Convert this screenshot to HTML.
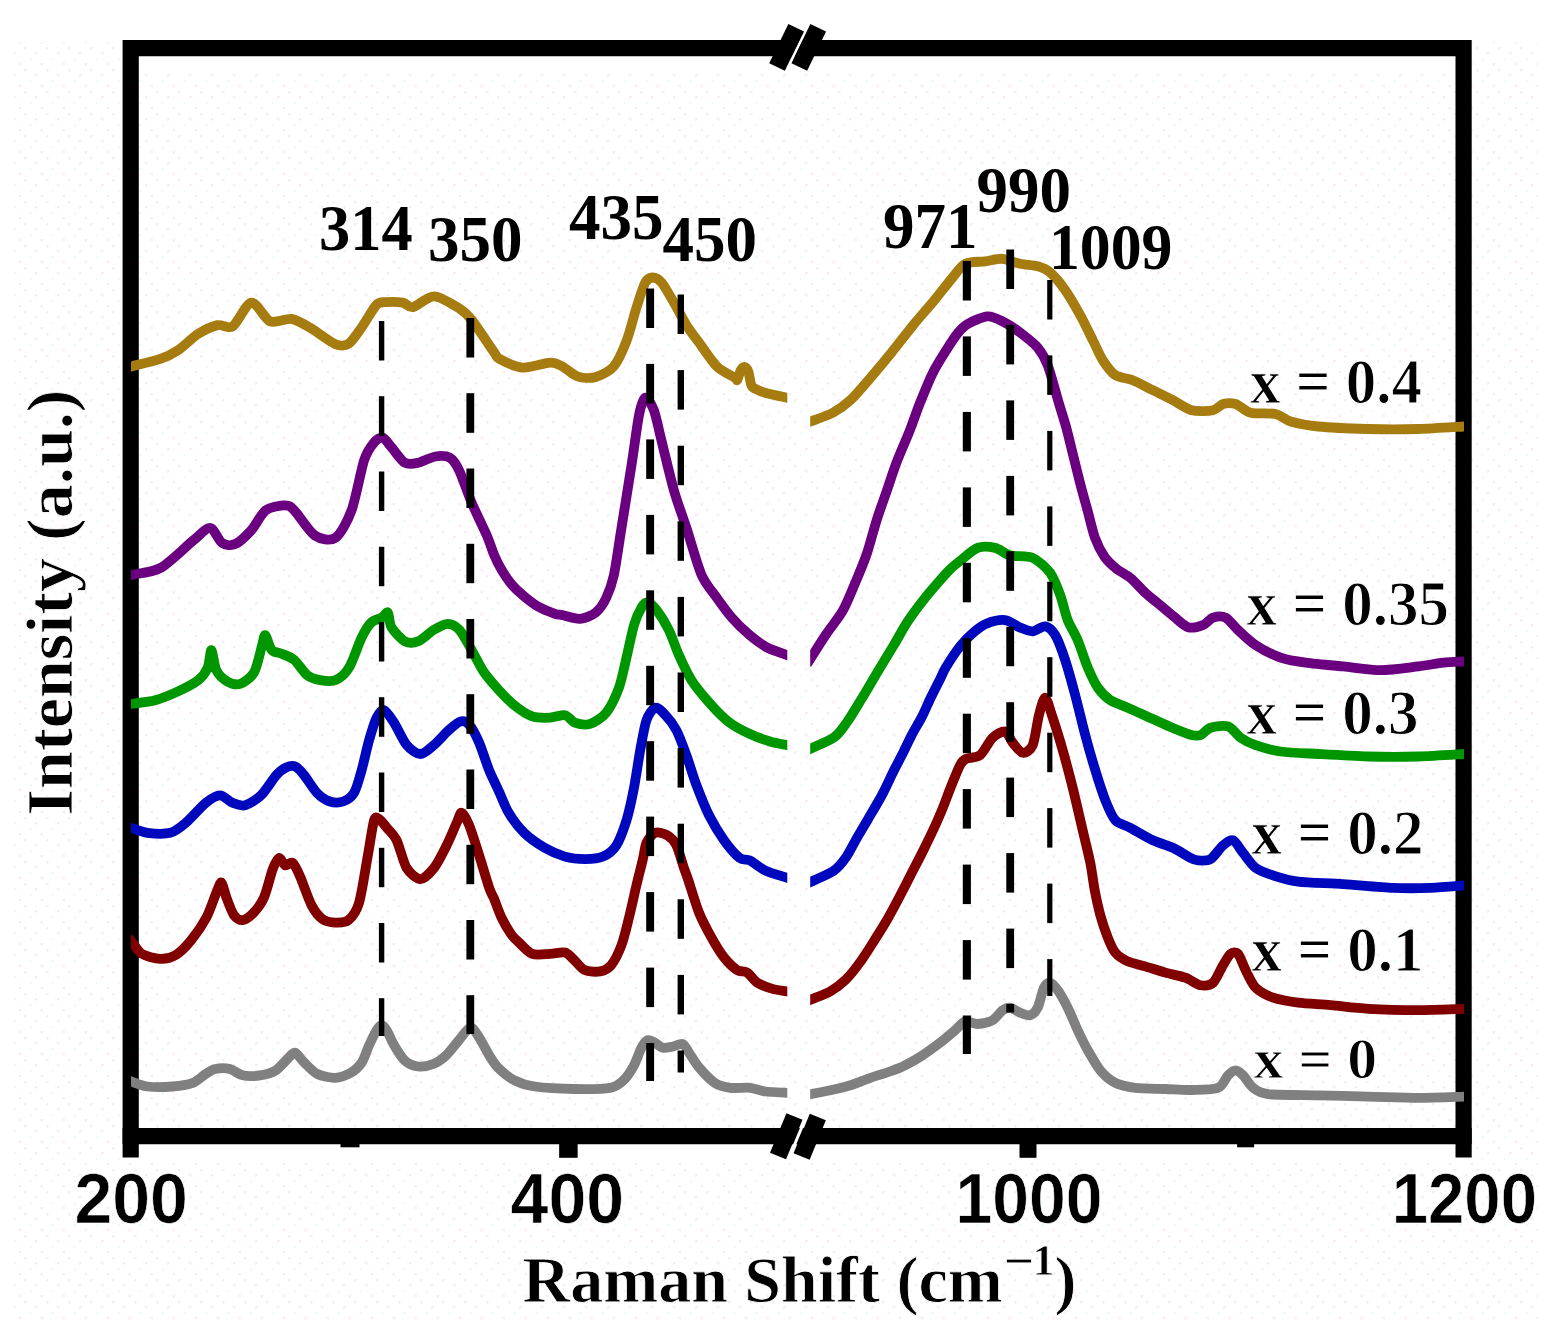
<!DOCTYPE html>
<html lang="en"><head><meta charset="utf-8"><title>Raman spectra</title>
<style>html,body{margin:0;padding:0;background:#fff}body{width:1558px;height:1340px;overflow:hidden}svg{display:block}.s{font-family:"Liberation Serif",serif;font-weight:bold;fill:#000}.a{font-family:"Liberation Sans",sans-serif;font-weight:bold;fill:#000}.c{fill:none;stroke-linejoin:round;stroke-linecap:butt}</style></head><body>
<svg width="1558" height="1340" viewBox="0 0 1558 1340">
<defs><pattern id="dz" width="22" height="22" patternUnits="userSpaceOnUse"><rect x="2" y="3" width="2.5" height="2.5" fill="#f6edf4"/><rect x="13" y="8" width="2.5" height="2.5" fill="#f6edf4"/><rect x="7.5" y="14" width="2.5" height="2.5" fill="#ebfcfc"/><rect x="18.5" y="19" width="2.5" height="2.5" fill="#f6edf4"/></pattern></defs>
<rect width="1558" height="1340" fill="#fff"/>
<rect x="14" y="42" width="1524" height="1280" fill="url(#dz)"/>
<rect x="122" y="40" width="1350" height="32" fill="#fff"/>
<rect x="122" y="1128" width="1350" height="35" fill="#fff"/>
<path d="M130.7,1157.5 V48.2 H1463.6 V1157.5" fill="none" stroke="#000" stroke-width="16.2" stroke-linejoin="miter" stroke-linecap="butt"/>
<path d="M122.6,1136.2 H1471.6999999999998" fill="none" stroke="#000" stroke-width="16.2"/>
<rect x="340.5" y="1136.2" width="19" height="11.1" fill="#000"/>
<rect x="559.15" y="1136.2" width="18.5" height="21.6" fill="#000"/>
<rect x="1019.5" y="1136.2" width="17" height="21.6" fill="#000"/>
<rect x="1237.1" y="1136.2" width="17" height="11.1" fill="#000"/>
<path d="M807.2,27.7 L788.1,67.0" stroke="#fff" stroke-width="3" fill="none"/>
<path d="M796.2,27.7 L777,67" stroke="#000" stroke-width="17.4" fill="none"/>
<path d="M818.2,27.7 L799.3,67" stroke="#000" stroke-width="17.4" fill="none"/>
<path d="M806.1,1116.8 L789.8,1156.2" stroke="#fff" stroke-width="3" fill="none"/>
<path d="M794.5,1116.5 L778,1156" stroke="#000" stroke-width="17.4" fill="none"/>
<path d="M817.8,1117 L801.6,1156.5" stroke="#000" stroke-width="17.4" fill="none"/>
<clipPath id="cl"><rect x="131" y="0" width="656.3" height="1340"/></clipPath>
<clipPath id="cr"><rect x="810.2" y="0" width="653.8" height="1340"/></clipPath>
<path class="c" clip-path="url(#cl)" stroke="#808080" stroke-width="9.8" d="M127.3,1080.3 C127.9,1080.4 128.5,1080.6 131.3,1081.5 C134.1,1082.4 141.6,1085.8 147.4,1086.5 C153.2,1087.2 166.3,1087.0 172.7,1086.5 C179.1,1086.0 188.3,1084.5 192.9,1082.8 C197.5,1081.0 202.5,1075.9 205.6,1074.0 C208.7,1072.1 211.9,1069.7 215.3,1069.0 C218.7,1068.3 226.2,1068.1 230.0,1069.0 C233.8,1069.9 238.3,1074.4 242.5,1075.3 C246.7,1076.2 255.6,1076.0 260.3,1075.3 C265.0,1074.6 271.9,1072.8 275.8,1070.3 C279.7,1067.8 285.8,1060.3 288.5,1057.8 C291.2,1055.3 293.0,1052.0 295.2,1052.7 C297.4,1053.4 301.4,1059.8 304.5,1062.8 C307.6,1065.8 313.1,1071.9 317.4,1074.0 C321.7,1076.1 330.6,1078.0 335.3,1077.8 C340.0,1077.6 347.1,1074.9 350.8,1072.8 C354.5,1070.7 359.0,1066.7 361.6,1062.8 C364.2,1058.9 367.0,1049.8 369.1,1045.2 C371.2,1040.6 374.9,1033.0 376.6,1030.2 C378.4,1027.4 380.2,1025.2 381.6,1025.2 C383.0,1025.2 384.9,1027.4 386.6,1030.2 C388.4,1033.0 391.6,1041.0 394.1,1045.2 C396.6,1049.4 401.3,1057.3 404.6,1060.3 C407.9,1063.3 413.9,1066.0 417.9,1066.5 C421.9,1067.0 429.3,1065.6 433.3,1064.0 C437.3,1062.4 442.6,1058.6 446.2,1055.3 C449.8,1052.0 455.5,1044.1 458.9,1040.2 C462.3,1036.3 467.6,1028.0 470.5,1027.7 C473.4,1027.4 476.7,1033.8 479.3,1037.7 C481.9,1041.6 486.6,1051.1 489.2,1055.3 C491.8,1059.5 494.6,1064.3 498.1,1067.8 C501.6,1071.3 509.3,1077.7 514.5,1080.3 C519.7,1082.9 526.4,1085.3 534.9,1086.5 C543.4,1087.7 564.5,1088.8 575.1,1089.0 C585.7,1089.2 603.5,1089.0 610.3,1087.8 C617.1,1086.6 620.3,1083.5 623.6,1080.3 C626.9,1077.1 631.5,1069.9 634.0,1065.3 C636.5,1060.7 639.6,1051.2 641.5,1047.7 C643.4,1044.2 645.8,1040.9 647.7,1040.2 C649.6,1039.5 652.7,1041.7 654.8,1042.7 C656.9,1043.8 660.2,1047.2 662.7,1047.7 C665.2,1048.2 670.1,1047.0 672.9,1046.5 C675.7,1046.0 680.4,1043.1 682.7,1044.0 C685.0,1044.9 686.7,1049.4 689.0,1052.7 C691.3,1056.0 695.7,1063.6 699.3,1067.8 C702.9,1072.0 710.4,1080.0 714.7,1082.8 C719.0,1085.6 725.2,1087.1 730.2,1087.8 C735.2,1088.5 745.3,1087.3 750.2,1087.8 C755.1,1088.3 760.0,1090.8 765.2,1091.5 C770.4,1092.2 783.7,1092.6 787.4,1092.8 C791.1,1093.0 790.8,1093.0 791.4,1093.0"/>
<path class="c" clip-path="url(#cr)" stroke="#808080" stroke-width="9.8" d="M806.4,1094.9 C807.0,1094.8 807.0,1094.7 810.4,1094.1 C813.8,1093.5 824.8,1091.5 830.4,1090.3 C836.0,1089.1 844.8,1087.0 850.4,1085.3 C856.0,1083.5 865.0,1079.7 870.5,1077.8 C876.0,1075.9 885.2,1073.2 890.0,1071.5 C894.8,1069.8 900.5,1067.6 905.0,1065.3 C909.5,1063.0 917.6,1058.5 922.5,1055.3 C927.4,1052.1 935.5,1046.2 940.1,1042.7 C944.7,1039.2 951.6,1033.2 955.1,1030.2 C958.6,1027.2 962.0,1022.4 965.1,1021.5 C968.2,1020.6 973.8,1024.2 977.6,1024.0 C981.5,1023.8 989.1,1022.1 992.6,1020.2 C996.1,1018.3 1000.1,1012.0 1002.6,1010.2 C1005.1,1008.5 1007.7,1007.4 1010.2,1007.7 C1012.7,1008.1 1017.4,1011.7 1020.2,1012.7 C1023.0,1013.8 1027.8,1015.9 1030.2,1015.2 C1032.7,1014.5 1035.8,1011.6 1037.7,1007.7 C1039.6,1003.9 1042.2,991.2 1043.9,987.7 C1045.7,984.2 1048.3,982.4 1050.2,982.7 C1052.1,983.1 1055.2,986.7 1057.7,990.2 C1060.2,993.7 1064.9,1002.1 1067.7,1007.7 C1070.5,1013.3 1074.9,1024.2 1077.7,1030.2 C1080.5,1036.2 1084.6,1044.6 1087.8,1050.2 C1091.0,1055.8 1096.5,1065.7 1100.3,1070.3 C1104.1,1074.9 1110.4,1080.3 1115.3,1082.8 C1120.2,1085.2 1128.3,1086.9 1135.3,1087.8 C1142.3,1088.7 1157.5,1088.7 1165.4,1089.0 C1173.3,1089.3 1184.3,1090.2 1191.7,1090.0 C1199.1,1089.8 1213.0,1089.9 1218.1,1087.8 C1223.2,1085.7 1225.6,1077.8 1228.1,1075.3 C1230.5,1072.8 1233.5,1070.3 1235.6,1070.3 C1237.7,1070.3 1240.6,1072.8 1243.1,1075.3 C1245.5,1077.8 1249.6,1085.2 1253.1,1087.8 C1256.6,1090.4 1259.0,1093.0 1268.1,1094.1 C1277.2,1095.1 1304.2,1095.0 1318.2,1095.3 C1332.2,1095.6 1354.3,1096.2 1368.3,1096.6 C1382.3,1096.9 1404.9,1097.8 1418.3,1097.8 C1431.7,1097.8 1457.1,1096.8 1464.1,1096.6 C1471.1,1096.4 1467.5,1096.5 1468.1,1096.5"/>
<path class="c" clip-path="url(#cl)" stroke="#800000" stroke-width="9.8" d="M128.5,937.8 C129.1,938.5 130.6,940.4 132.5,942.6 C134.4,944.8 138.1,951.6 142.0,953.9 C145.9,956.2 155.4,958.7 160.1,958.9 C164.8,959.1 171.2,957.7 175.6,955.1 C180.0,952.5 186.9,945.4 191.2,940.1 C195.5,934.9 202.9,924.3 206.4,917.6 C209.9,910.9 214.3,897.4 216.4,892.5 C218.5,887.6 220.0,881.8 221.4,882.5 C222.8,883.2 224.7,892.9 226.4,897.5 C228.2,902.1 231.6,911.9 233.9,915.1 C236.2,918.3 239.9,920.5 242.7,920.1 C245.5,919.8 250.7,915.8 253.7,912.6 C256.7,909.4 261.3,903.6 264.0,897.5 C266.7,891.4 270.7,874.5 272.8,869.0 C274.9,863.5 277.3,858.4 279.0,857.9 C280.7,857.4 283.3,864.7 285.2,865.4 C287.1,866.1 290.6,861.3 292.7,862.9 C294.8,864.5 297.5,870.6 300.1,876.5 C302.7,882.4 308.4,899.2 311.5,905.1 C314.6,911.0 318.8,916.3 322.1,918.8 C325.4,921.2 331.6,922.4 335.3,922.6 C339.0,922.8 345.3,922.9 348.6,920.1 C351.9,917.3 356.4,911.7 359.1,902.6 C361.8,893.5 365.8,866.6 367.9,855.1 C370.0,843.6 372.5,825.3 374.1,820.3 C375.7,815.3 377.3,818.1 379.1,819.1 C380.9,820.1 384.4,824.8 386.9,827.8 C389.3,830.8 393.8,834.7 396.6,840.3 C399.4,845.9 403.3,862.5 406.6,867.9 C409.9,873.3 416.5,879.1 420.4,879.1 C424.2,879.1 430.4,872.6 434.1,867.9 C437.8,863.2 443.5,851.6 446.7,845.3 C449.9,839.0 454.6,827.3 456.7,822.8 C458.8,818.2 459.9,812.4 461.7,812.8 C463.4,813.1 466.8,819.3 469.2,825.3 C471.6,831.3 476.4,846.6 479.2,855.4 C482.0,864.2 487.1,881.8 489.2,887.9 C491.3,894.0 492.4,894.8 494.2,899.0 C495.9,903.2 499.3,913.1 501.7,918.0 C504.1,922.9 508.6,930.6 511.0,934.0 C513.4,937.4 516.1,939.8 519.1,942.6 C522.1,945.4 527.9,952.3 532.2,953.9 C536.5,955.5 545.5,954.1 550.1,953.9 C554.7,953.7 561.7,951.7 565.1,952.6 C568.5,953.5 571.6,957.6 574.3,960.1 C577.0,962.6 581.1,968.5 584.7,970.1 C588.3,971.7 596.4,972.1 600.1,971.4 C603.8,970.7 608.2,968.8 611.2,965.1 C614.2,961.4 619.0,951.8 621.5,945.1 C624.0,938.5 626.9,926.0 629.0,917.6 C631.1,909.2 634.6,893.1 636.5,885.0 C638.4,876.9 641.3,865.9 642.7,860.0 C644.1,854.1 644.8,846.6 646.5,842.8 C648.2,839.0 652.3,833.8 655.2,832.8 C658.1,831.8 664.2,833.5 667.2,835.3 C670.2,837.0 674.1,840.7 676.4,845.3 C678.7,849.9 682.2,863.0 683.9,867.9 C685.6,872.8 686.2,873.8 688.3,880.1 C690.4,886.4 695.8,904.6 699.0,912.6 C702.2,920.6 708.0,931.3 711.5,937.6 C715.0,943.9 720.6,953.1 724.2,957.6 C727.8,962.1 734.0,968.0 737.2,970.1 C740.4,972.2 744.5,970.8 747.3,972.6 C750.1,974.4 753.7,980.4 757.2,982.7 C760.7,985.0 768.3,987.7 772.5,988.9 C776.7,990.1 784.8,991.0 787.4,991.4 C790.0,991.8 790.8,992.0 791.4,992.1"/>
<path class="c" clip-path="url(#cr)" stroke="#800000" stroke-width="9.8" d="M807.0,1001.2 C807.6,1000.9 807.8,1000.9 811.0,999.5 C814.2,998.1 825.2,994.3 830.1,991.5 C835.0,988.7 841.6,983.7 845.9,979.5 C850.2,975.3 856.7,966.9 860.6,961.5 C864.5,956.1 870.3,946.9 874.0,941.0 C877.7,935.1 883.5,925.9 887.1,919.7 C890.7,913.5 896.0,903.5 899.4,897.0 C902.8,890.5 908.3,879.6 911.7,873.0 C915.1,866.4 920.4,856.3 923.5,850.0 C926.6,843.7 931.3,834.0 934.1,828.0 C936.9,822.0 940.9,812.6 943.2,807.0 C945.5,801.4 948.1,793.7 950.5,787.8 C952.9,781.9 957.9,769.2 960.0,765.2 C962.1,761.2 963.0,760.4 965.8,759.0 C968.6,757.6 976.3,758.2 980.1,755.2 C983.9,752.2 989.1,741.0 992.6,737.7 C996.1,734.4 1002.3,730.8 1005.1,731.5 C1007.9,732.2 1010.2,739.7 1012.7,742.7 C1015.2,745.7 1019.9,752.4 1022.7,752.7 C1025.5,753.1 1030.4,750.5 1032.7,745.2 C1035.0,740.0 1037.2,721.9 1038.9,715.2 C1040.7,708.6 1043.3,697.4 1045.2,697.7 C1047.1,698.1 1050.2,710.4 1052.7,717.7 C1055.2,725.1 1059.9,740.4 1062.7,750.2 C1065.5,760.0 1069.9,776.6 1072.7,787.8 C1075.5,799.0 1080.2,819.8 1082.7,830.3 C1085.2,840.8 1088.6,854.5 1090.3,862.9 C1092.0,871.3 1093.3,882.9 1094.7,890.2 C1096.1,897.5 1098.5,908.5 1100.3,915.1 C1102.1,921.7 1105.7,932.4 1107.8,937.6 C1109.9,942.9 1112.5,949.3 1115.3,952.6 C1118.1,955.9 1123.6,959.5 1127.8,961.4 C1132.0,963.3 1140.0,964.8 1145.3,966.4 C1150.6,968.0 1159.8,971.0 1165.4,972.6 C1171.0,974.2 1180.5,975.9 1185.4,977.7 C1190.3,979.5 1196.6,984.5 1200.5,985.2 C1204.4,985.9 1209.9,985.5 1213.1,982.7 C1216.3,979.9 1220.6,969.1 1223.1,965.1 C1225.5,961.1 1228.5,955.5 1230.6,953.9 C1232.7,952.3 1236.0,951.6 1238.1,953.9 C1240.2,956.2 1243.1,965.4 1245.6,970.1 C1248.0,974.8 1251.8,983.8 1255.6,987.7 C1259.4,991.6 1267.1,995.6 1273.1,997.7 C1279.1,999.8 1290.1,1001.7 1298.2,1002.7 C1306.3,1003.8 1320.9,1004.3 1330.7,1005.2 C1340.5,1006.1 1356.0,1008.2 1368.3,1008.9 C1380.6,1009.6 1404.9,1010.2 1418.3,1010.2 C1431.7,1010.2 1457.1,1009.1 1464.1,1008.9 C1471.1,1008.7 1467.5,1008.8 1468.1,1008.8"/>
<path class="c" clip-path="url(#cl)" stroke="#0008be" stroke-width="9.8" d="M127.3,826.6 C127.9,826.7 128.5,826.9 131.3,827.8 C134.1,828.7 141.9,832.1 147.4,832.8 C152.9,833.5 164.9,834.2 170.3,832.8 C175.7,831.4 180.8,827.0 185.8,822.8 C190.8,818.6 201.0,806.6 205.8,802.8 C210.6,798.9 216.4,795.3 220.1,795.3 C223.8,795.3 228.9,801.4 232.4,802.8 C235.9,804.2 241.2,806.3 245.2,805.3 C249.2,804.2 256.8,799.5 261.1,795.3 C265.4,791.1 272.8,779.2 276.2,775.3 C279.6,771.4 282.9,768.9 285.6,767.7 C288.3,766.5 292.6,765.4 295.2,766.5 C297.8,767.6 301.3,771.6 304.3,775.3 C307.3,779.0 313.3,789.1 316.9,792.8 C320.5,796.5 326.3,800.3 330.0,801.5 C333.7,802.7 339.7,802.7 343.1,801.5 C346.5,800.3 351.5,797.2 354.1,792.8 C356.7,788.4 359.5,777.7 361.6,770.3 C363.7,762.9 367.0,747.6 369.1,740.2 C371.2,732.8 374.5,721.9 376.6,717.7 C378.7,713.5 381.7,709.5 384.1,710.2 C386.6,710.9 390.9,717.8 394.1,722.7 C397.3,727.6 403.1,740.8 406.8,745.2 C410.5,749.6 416.6,754.0 420.4,754.0 C424.2,754.0 429.7,748.5 433.7,745.2 C437.7,741.9 445.0,733.5 448.7,730.2 C452.4,726.9 457.5,722.1 460.4,721.4 C463.3,720.7 467.0,722.2 469.6,725.2 C472.2,728.2 476.5,736.4 479.2,742.7 C481.9,749.0 486.4,763.5 489.2,770.3 C492.0,777.1 496.3,785.5 499.0,791.5 C501.7,797.5 505.2,807.0 508.7,812.8 C512.2,818.6 519.1,827.9 524.1,832.8 C529.1,837.7 538.9,844.5 544.6,847.8 C550.3,851.1 559.2,855.0 564.9,856.6 C570.6,858.2 579.8,859.1 585.1,859.1 C590.4,859.1 598.6,858.5 603.0,856.6 C607.4,854.7 613.1,850.4 616.4,845.3 C619.7,840.2 624.0,828.3 626.5,820.3 C629.0,812.2 632.1,797.6 634.0,787.8 C635.9,778.0 638.5,759.7 640.2,750.2 C642.0,740.7 644.4,726.2 646.5,720.2 C648.6,714.2 652.7,708.6 655.2,707.7 C657.7,706.8 661.3,710.8 664.3,713.9 C667.3,717.0 673.3,724.4 676.4,730.2 C679.5,736.0 683.6,747.5 686.4,755.2 C689.2,762.9 693.3,776.9 696.5,785.3 C699.7,793.7 705.1,807.6 709.0,815.3 C712.9,823.0 719.8,834.3 724.1,840.3 C728.4,846.3 736.0,855.1 739.6,857.9 C743.2,860.7 746.4,858.6 749.9,860.4 C753.4,862.1 759.6,867.9 764.9,870.4 C770.1,872.9 783.7,876.7 787.4,877.9 C791.1,879.1 790.8,879.0 791.4,879.2"/>
<path class="c" clip-path="url(#cr)" stroke="#0008be" stroke-width="9.8" d="M807.0,883.7 C807.6,883.4 807.3,883.6 811.0,881.8 C814.7,880.0 828.4,874.6 833.4,871.1 C838.4,867.6 843.1,861.4 846.4,856.7 C849.7,852.0 854.0,842.9 857.1,837.6 C860.2,832.3 864.9,824.5 868.4,818.5 C871.9,812.5 878.8,801.0 882.2,794.6 C885.6,788.2 889.8,778.8 892.6,773.1 C895.4,767.4 899.7,759.3 902.4,754.0 C905.1,748.7 909.0,740.1 911.7,734.9 C914.4,729.7 919.1,722.3 921.8,717.0 C924.5,711.7 928.6,702.1 931.1,697.0 C933.6,691.9 937.3,684.6 939.4,680.5 C941.5,676.4 942.9,672.3 945.8,667.5 C948.7,662.7 956.3,651.0 960.3,646.0 C964.3,641.0 970.5,634.9 974.3,631.7 C978.1,628.5 982.9,624.9 987.2,623.3 C991.5,621.7 1000.5,619.5 1005.1,620.1 C1009.7,620.7 1016.3,626.0 1020.2,627.6 C1024.1,629.2 1029.2,631.5 1032.7,631.3 C1036.2,631.1 1042.0,625.8 1045.2,626.3 C1048.4,626.8 1052.4,630.4 1055.2,635.1 C1058.0,639.8 1062.4,651.7 1065.2,660.1 C1068.0,668.5 1072.4,684.7 1075.2,695.2 C1078.0,705.7 1082.5,724.7 1085.3,735.2 C1088.1,745.7 1092.5,761.2 1095.3,770.3 C1098.1,779.4 1102.5,793.3 1105.3,800.3 C1108.1,807.3 1111.8,816.4 1115.3,820.3 C1118.8,824.1 1125.0,825.0 1130.3,827.8 C1135.5,830.6 1146.8,837.5 1152.8,840.3 C1158.8,843.1 1167.6,845.3 1172.9,847.8 C1178.2,850.3 1186.9,856.1 1190.4,857.9 C1193.9,859.7 1195.2,860.2 1198.0,860.4 C1200.8,860.6 1207.1,861.2 1210.6,859.1 C1214.1,857.0 1219.9,847.9 1223.1,845.3 C1226.2,842.7 1230.3,839.2 1233.1,840.3 C1235.9,841.4 1239.9,849.0 1243.1,852.9 C1246.2,856.8 1251.4,864.8 1255.6,867.9 C1259.8,871.0 1267.1,873.5 1273.1,875.4 C1279.1,877.3 1288.4,880.4 1298.2,881.6 C1308.0,882.8 1329.9,883.2 1343.2,884.1 C1356.5,885.0 1381.0,887.4 1393.3,887.9 C1405.6,888.4 1420.9,888.2 1430.8,887.9 C1440.7,887.5 1458.9,885.8 1464.1,885.4 C1469.3,885.0 1467.5,885.1 1468.1,885.1"/>
<path class="c" clip-path="url(#cl)" stroke="#009600" stroke-width="9.8" d="M127.3,704.5 C127.9,704.4 127.4,704.5 131.3,703.9 C135.2,703.3 148.8,702.0 155.3,700.2 C161.8,698.5 172.0,694.2 178.0,691.4 C184.0,688.6 194.1,683.4 198.3,680.1 C202.5,676.8 205.9,671.8 207.7,667.6 C209.5,663.4 210.2,649.8 211.4,650.1 C212.6,650.5 214.1,665.7 216.3,670.1 C218.5,674.5 223.9,679.5 227.2,681.4 C230.5,683.3 236.4,685.1 240.2,683.9 C244.0,682.7 251.0,677.7 254.0,672.6 C257.0,667.5 259.9,652.9 261.5,647.6 C263.1,642.4 263.8,634.8 265.2,635.1 C266.6,635.5 269.4,647.5 271.8,650.1 C274.2,652.7 279.1,652.5 282.3,653.9 C285.5,655.3 291.0,657.1 294.5,660.1 C298.0,663.1 303.5,672.3 307.1,675.1 C310.7,677.9 316.1,679.4 320.1,680.1 C324.1,680.8 331.6,681.9 335.7,680.1 C339.8,678.4 345.5,673.6 349.1,667.6 C352.7,661.6 358.5,643.9 361.6,637.6 C364.7,631.3 368.2,625.4 371.1,622.6 C374.0,619.8 379.7,619.0 382.1,617.6 C384.5,616.2 386.6,611.1 387.9,612.5 C389.2,613.9 389.2,623.6 391.6,627.6 C394.0,631.6 401.2,639.4 404.9,641.3 C408.6,643.2 414.3,642.9 418.3,641.3 C422.3,639.7 429.3,632.6 433.4,630.1 C437.5,627.6 444.2,623.8 447.9,623.8 C451.6,623.8 456.2,626.4 459.5,630.1 C462.8,633.8 468.2,644.1 471.7,650.1 C475.2,656.1 480.4,667.0 484.2,672.6 C488.0,678.2 494.8,685.7 499.0,690.3 C503.2,694.9 509.7,701.5 514.3,705.2 C518.9,708.9 527.2,714.6 532.2,716.4 C537.2,718.1 545.5,717.9 550.1,717.7 C554.7,717.5 561.6,714.5 565.1,715.2 C568.6,715.9 571.3,721.5 574.8,722.7 C578.3,723.9 585.7,725.3 590.1,723.9 C594.5,722.5 602.2,717.8 606.2,712.7 C610.2,707.6 616.2,695.3 619.0,687.6 C621.8,679.9 624.4,666.4 626.5,657.6 C628.6,648.9 631.9,632.1 634.0,625.1 C636.1,618.1 639.6,610.7 641.5,607.5 C643.4,604.3 645.6,602.1 647.7,602.5 C649.8,602.9 653.6,606.1 656.6,610.0 C659.6,613.9 665.8,623.8 668.9,630.1 C672.0,636.4 675.8,648.1 678.9,655.1 C682.0,662.1 687.1,673.4 691.4,680.1 C695.7,686.8 704.0,696.7 709.3,702.7 C714.6,708.7 723.9,718.3 729.6,722.7 C735.3,727.1 744.2,731.4 749.9,734.0 C755.6,736.6 764.8,739.9 770.0,741.5 C775.2,743.1 784.4,744.6 787.4,745.2 C790.4,745.8 790.8,745.9 791.4,746.1"/>
<path class="c" clip-path="url(#cr)" stroke="#009600" stroke-width="9.8" d="M807.0,750.4 C807.6,750.2 807.2,750.3 811.0,748.5 C814.8,746.7 829.1,741.0 834.2,737.3 C839.3,733.6 843.2,727.5 847.1,722.0 C851.0,716.5 857.8,705.0 862.1,698.0 C866.4,691.0 873.0,679.5 877.5,672.0 C882.0,664.5 890.1,651.4 894.2,644.5 C898.3,637.6 903.2,628.3 907.0,622.5 C910.8,616.7 917.2,608.1 921.1,603.0 C925.0,597.9 930.8,590.9 934.8,586.3 C938.8,581.7 945.8,573.6 949.4,570.0 C953.0,566.4 956.7,563.6 960.6,560.5 C964.5,557.4 972.8,549.7 977.6,547.9 C982.4,546.1 990.5,546.9 995.1,547.9 C999.7,548.9 1004.9,554.0 1010.2,555.4 C1015.5,556.8 1027.1,555.4 1032.7,557.9 C1038.3,560.4 1046.4,567.7 1050.2,572.9 C1054.0,578.1 1057.8,588.4 1060.2,595.0 C1062.7,601.6 1065.2,613.8 1067.7,620.1 C1070.2,626.4 1074.9,633.5 1077.7,640.1 C1080.5,646.8 1085.0,661.0 1087.8,667.6 C1090.6,674.2 1094.6,683.0 1097.8,687.6 C1101.0,692.2 1106.1,697.4 1110.3,700.2 C1114.5,703.0 1121.8,705.1 1127.8,707.7 C1133.8,710.3 1146.5,716.3 1152.8,719.1 C1159.1,721.9 1167.6,725.8 1172.9,728.0 C1178.2,730.2 1186.5,733.7 1190.4,734.7 C1194.3,735.7 1197.7,736.2 1200.5,735.2 C1203.3,734.2 1206.7,728.9 1210.6,727.7 C1214.5,726.5 1223.9,725.0 1228.1,726.4 C1232.3,727.8 1236.8,735.1 1240.6,737.7 C1244.4,740.3 1250.0,743.3 1255.6,745.2 C1261.2,747.1 1271.8,750.3 1280.6,751.5 C1289.4,752.7 1305.9,753.3 1318.2,754.0 C1330.5,754.7 1354.3,756.1 1368.3,756.5 C1382.3,756.9 1404.9,756.9 1418.3,756.5 C1431.7,756.1 1457.1,754.4 1464.1,754.0 C1471.1,753.6 1467.5,753.8 1468.1,753.8"/>
<path class="c" clip-path="url(#cl)" stroke="#6a0080" stroke-width="9.8" d="M127.3,575.9 C127.9,575.7 126.6,576.0 131.3,574.9 C136.0,573.8 151.9,572.7 160.6,567.9 C169.3,563.1 186.4,546.0 193.3,540.4 C200.2,534.8 206.1,527.5 210.1,527.9 C214.1,528.2 218.5,540.6 222.0,542.9 C225.5,545.2 231.1,545.9 235.2,544.1 C239.3,542.4 246.9,535.1 251.2,530.4 C255.5,525.7 261.0,513.8 265.8,510.3 C270.6,506.8 281.2,505.3 285.2,505.3 C289.2,505.3 290.2,506.1 294.3,510.3 C298.4,514.5 309.0,531.5 314.7,535.4 C320.4,539.3 330.1,541.4 335.3,537.9 C340.5,534.4 347.6,521.2 351.6,510.3 C355.6,499.4 361.0,469.8 364.1,460.3 C367.2,450.9 371.2,445.9 373.8,442.8 C376.4,439.7 380.3,437.1 382.8,437.8 C385.3,438.5 388.8,444.3 391.9,447.8 C395.0,451.3 401.2,460.7 404.9,462.8 C408.6,464.9 413.8,463.7 418.1,462.8 C422.4,461.9 430.9,457.2 435.4,456.5 C439.9,455.8 446.6,455.9 449.9,457.8 C453.2,459.7 456.0,464.0 459.1,470.3 C462.2,476.6 467.8,493.6 471.7,502.8 C475.6,512.0 484.0,528.8 487.1,536.1 C490.2,543.4 492.2,550.5 494.2,555.2 C496.2,559.9 499.0,565.6 501.4,569.6 C503.8,573.6 508.1,580.2 511.2,583.9 C514.3,587.6 519.6,592.6 523.4,595.8 C527.2,599.0 533.6,604.1 538.0,606.6 C542.4,609.1 551.5,612.6 554.9,613.8 C558.3,615.0 558.9,614.4 562.4,615.1 C565.9,615.8 575.4,619.2 580.1,618.8 C584.8,618.4 592.1,615.5 595.8,612.5 C599.5,609.5 603.9,602.8 606.4,597.5 C608.9,592.2 611.8,584.7 613.9,575.0 C616.0,565.3 619.0,543.3 621.5,527.9 C624.0,512.5 629.0,481.1 631.5,465.3 C634.0,449.5 637.1,424.7 639.0,415.2 C640.9,405.7 643.1,398.4 645.2,397.7 C647.3,397.0 651.6,404.2 653.9,410.2 C656.2,416.2 658.6,429.1 661.4,440.3 C664.2,451.5 670.4,478.0 673.9,490.3 C677.4,502.6 682.5,516.1 686.4,527.9 C690.3,539.7 697.3,565.2 701.5,574.9 C705.7,584.6 712.4,591.5 716.6,597.5 C720.8,603.5 727.2,612.3 731.8,617.6 C736.4,622.9 744.6,630.9 749.6,635.1 C754.6,639.3 762.0,644.8 767.3,647.6 C772.6,650.4 784.0,653.8 787.4,655.1 C790.8,656.4 790.8,656.4 791.4,656.6"/>
<path class="c" clip-path="url(#cr)" stroke="#6a0080" stroke-width="9.8" d="M807.0,664.1 C807.6,663.3 808.3,662.1 811.0,657.9 C813.7,653.7 821.8,640.8 826.3,634.1 C830.8,627.4 838.8,617.9 843.1,610.2 C847.4,602.5 853.4,587.1 856.8,579.1 C860.2,571.1 864.3,561.3 867.1,552.9 C869.9,544.5 874.1,528.1 876.9,519.4 C879.7,510.7 884.0,498.8 886.8,490.8 C889.6,482.8 893.5,470.5 896.7,462.1 C899.9,453.7 906.3,439.3 909.6,431.0 C912.9,422.7 916.8,410.9 920.1,402.7 C923.4,394.5 929.2,380.1 932.9,372.7 C936.6,365.3 942.8,355.7 946.3,350.1 C949.8,344.5 955.2,336.3 958.2,332.6 C961.2,328.9 963.6,326.2 967.7,323.9 C971.8,321.6 982.7,316.7 987.6,316.3 C992.5,315.9 998.0,319.1 1002.6,321.4 C1007.2,323.7 1015.3,328.9 1020.2,332.6 C1025.1,336.3 1033.9,343.0 1037.7,347.6 C1041.5,352.2 1044.7,357.3 1047.7,365.2 C1050.7,373.1 1056.5,395.1 1059.1,403.9 C1061.7,412.7 1064.3,420.4 1066.3,427.8 C1068.3,435.2 1071.4,448.4 1073.4,456.4 C1075.4,464.4 1078.6,477.4 1080.6,485.1 C1082.6,492.8 1085.8,504.0 1087.8,511.4 C1089.8,518.8 1092.6,531.3 1094.9,537.6 C1097.2,543.9 1101.5,552.3 1104.5,556.7 C1107.5,561.1 1112.7,565.7 1116.4,568.7 C1120.1,571.7 1126.8,574.9 1130.8,578.2 C1134.8,581.5 1141.1,588.9 1145.1,592.6 C1149.1,596.3 1155.4,601.2 1159.4,604.5 C1163.4,607.8 1169.7,613.2 1173.7,616.4 C1177.7,619.6 1184.0,626.0 1188.1,627.2 C1192.2,628.4 1199.5,626.4 1203.0,625.1 C1206.5,623.8 1209.9,618.6 1213.1,617.6 C1216.3,616.6 1222.1,615.9 1225.6,617.6 C1229.1,619.4 1233.9,626.2 1238.1,630.1 C1242.3,634.0 1249.6,641.2 1255.6,645.1 C1261.5,649.0 1273.6,655.1 1280.6,657.6 C1287.6,660.1 1296.9,661.4 1305.7,662.6 C1314.5,663.8 1332.7,665.4 1343.2,666.4 C1353.7,667.4 1370.3,670.1 1380.8,670.1 C1391.3,670.1 1409.5,667.4 1418.3,666.4 C1427.1,665.4 1437.0,663.3 1443.4,662.6 C1449.8,661.9 1460.6,661.6 1464.1,661.4 C1467.6,661.2 1467.5,661.2 1468.1,661.2"/>
<path class="c" clip-path="url(#cl)" stroke="#a67c10" stroke-width="9.8" d="M127.3,367.4 C127.9,367.3 126.7,367.6 131.3,366.4 C135.9,365.2 153.8,361.2 160.4,358.9 C167.0,356.6 172.9,353.6 178.2,350.1 C183.5,346.6 192.6,337.4 198.1,333.9 C203.6,330.4 212.8,326.2 217.6,325.1 C222.4,324.1 228.0,329.5 232.7,326.4 C237.4,323.2 246.2,303.3 251.4,302.6 C256.7,301.9 264.6,319.1 270.2,321.4 C275.8,323.7 286.0,318.0 291.5,318.9 C297.0,319.8 303.7,324.1 309.8,327.6 C315.9,331.1 329.5,341.6 334.9,343.9 C340.3,346.2 344.7,346.2 348.4,343.9 C352.1,341.6 357.6,333.0 361.5,327.6 C365.4,322.2 372.9,308.7 376.2,305.1 C379.5,301.5 381.7,302.5 385.4,302.1 C389.1,301.8 398.8,301.9 402.7,302.6 C406.6,303.3 408.5,308.0 412.9,307.1 C417.3,306.2 427.6,296.1 434.2,296.3 C440.8,296.5 454.6,305.5 459.9,308.8 C465.2,312.1 467.1,314.0 471.9,320.1 C476.7,326.2 490.4,347.2 494.3,352.6 C498.2,358.0 495.6,356.8 499.5,358.9 C503.4,361.0 515.4,367.2 522.5,367.7 C529.6,368.2 544.5,362.9 550.1,362.7 C555.7,362.5 558.4,364.5 562.2,366.4 C566.0,368.3 572.7,374.9 577.3,376.4 C581.9,377.9 590.0,378.6 595.1,377.2 C600.2,375.8 609.2,371.7 613.6,366.6 C618.0,361.5 623.3,349.3 626.5,341.0 C629.7,332.7 633.9,315.8 636.5,307.6 C639.1,299.4 642.9,286.8 645.2,282.6 C647.5,278.4 650.4,277.5 652.7,277.5 C655.0,277.5 658.7,279.1 661.7,282.6 C664.7,286.1 670.4,296.7 673.9,302.6 C677.4,308.6 682.9,319.5 686.4,325.1 C689.9,330.7 694.8,336.9 699.1,342.7 C703.4,348.5 711.9,361.6 716.9,366.5 C721.9,371.4 731.9,375.8 734.8,377.7 C737.7,379.6 736.5,380.8 737.3,379.8 C738.1,378.8 739.6,372.3 740.6,370.5 C741.6,368.7 743.3,366.7 744.4,366.8 C745.5,366.9 747.3,368.8 748.3,371.5 C749.3,374.2 750.3,383.2 751.6,385.8 C752.9,388.4 755.9,389.0 757.8,390.0 C759.7,391.0 761.0,391.6 765.0,392.7 C769.0,393.8 783.0,396.9 786.6,397.7 C790.2,398.5 790.0,398.5 790.6,398.6"/>
<path class="c" clip-path="url(#cr)" stroke="#a67c10" stroke-width="9.8" d="M806.4,423.1 C807.0,422.8 806.7,423.0 810.4,421.5 C814.1,420.0 827.3,415.7 832.9,412.7 C838.5,409.7 845.1,405.1 850.4,400.2 C855.7,395.3 864.7,384.4 870.5,377.7 C876.3,371.0 885.5,360.0 891.5,352.6 C897.5,345.2 907.2,332.5 913.2,325.1 C919.2,317.8 929.0,306.8 934.5,300.1 C940.0,293.4 948.3,282.6 952.6,277.5 C956.9,272.4 960.6,266.1 965.1,263.8 C969.6,261.5 979.9,262.0 985.1,261.3 C990.4,260.6 997.7,258.4 1002.6,258.8 C1007.5,259.2 1015.3,262.8 1020.2,263.8 C1025.1,264.9 1033.5,265.1 1037.7,266.3 C1041.9,267.5 1046.4,269.2 1050.2,272.5 C1054.0,275.8 1061.0,284.1 1065.2,290.1 C1069.4,296.1 1076.3,308.1 1080.2,315.1 C1084.1,322.1 1089.6,333.8 1092.8,340.1 C1096.0,346.4 1099.6,355.3 1102.8,360.2 C1106.0,365.1 1111.1,372.4 1115.3,375.2 C1119.5,378.0 1127.5,378.1 1132.8,380.2 C1138.0,382.3 1147.2,387.4 1152.8,390.2 C1158.4,393.0 1167.5,397.4 1172.9,400.2 C1178.3,403.0 1186.1,408.8 1191.7,410.2 C1197.3,411.6 1208.7,411.1 1213.1,410.2 C1217.5,409.3 1219.9,404.9 1223.1,404.0 C1226.2,403.1 1231.8,402.8 1235.6,404.0 C1239.4,405.2 1245.0,411.3 1250.6,412.7 C1256.2,414.1 1270.0,412.8 1275.6,414.0 C1281.2,415.2 1284.7,419.8 1290.7,421.5 C1296.7,423.2 1307.3,425.4 1318.2,426.5 C1329.1,427.6 1354.3,428.6 1368.3,429.0 C1382.3,429.4 1405.0,429.4 1418.3,429.0 C1431.6,428.6 1456.5,426.9 1463.4,426.5 C1470.3,426.1 1466.8,426.3 1467.4,426.3"/>
<rect x="378.9" y="321.0" width="5.4" height="39.5" fill="#000"/>
<rect x="378.9" y="396.2" width="5.4" height="39.6" fill="#000"/>
<rect x="378.9" y="471.5" width="5.4" height="39.5" fill="#000"/>
<rect x="378.9" y="546.8" width="5.4" height="39.4" fill="#000"/>
<rect x="378.9" y="622.0" width="5.4" height="39.5" fill="#000"/>
<rect x="378.9" y="697.2" width="5.4" height="39.6" fill="#000"/>
<rect x="378.9" y="772.5" width="5.4" height="39.5" fill="#000"/>
<rect x="378.9" y="847.8" width="5.4" height="39.4" fill="#000"/>
<rect x="378.9" y="923.0" width="5.4" height="39.5" fill="#000"/>
<rect x="378.9" y="998.2" width="5.4" height="37.8" fill="#000"/>
<rect x="466.4" y="318.0" width="7.8" height="39.5" fill="#000"/>
<rect x="466.4" y="393.2" width="7.8" height="39.6" fill="#000"/>
<rect x="466.4" y="468.5" width="7.8" height="39.5" fill="#000"/>
<rect x="466.4" y="543.8" width="7.8" height="39.4" fill="#000"/>
<rect x="466.4" y="619.0" width="7.8" height="39.5" fill="#000"/>
<rect x="466.4" y="694.2" width="7.8" height="39.6" fill="#000"/>
<rect x="466.4" y="769.5" width="7.8" height="39.5" fill="#000"/>
<rect x="466.4" y="844.8" width="7.8" height="39.4" fill="#000"/>
<rect x="466.4" y="920.0" width="7.8" height="39.5" fill="#000"/>
<rect x="466.4" y="995.2" width="7.8" height="38.8" fill="#000"/>
<rect x="646.2" y="288.5" width="7.9" height="39.5" fill="#000"/>
<rect x="646.2" y="363.9" width="7.9" height="39.5" fill="#000"/>
<rect x="646.2" y="439.4" width="7.9" height="39.5" fill="#000"/>
<rect x="646.2" y="514.9" width="7.9" height="39.5" fill="#000"/>
<rect x="646.2" y="590.3" width="7.9" height="39.5" fill="#000"/>
<rect x="646.2" y="665.8" width="7.9" height="39.4" fill="#000"/>
<rect x="646.2" y="741.2" width="7.9" height="39.5" fill="#000"/>
<rect x="646.2" y="816.6" width="7.9" height="39.5" fill="#000"/>
<rect x="646.2" y="892.1" width="7.9" height="39.5" fill="#000"/>
<rect x="646.2" y="967.6" width="7.9" height="39.5" fill="#000"/>
<rect x="646.2" y="1043.0" width="7.9" height="38.0" fill="#000"/>
<rect x="677.6" y="294.5" width="6.4" height="39.5" fill="#000"/>
<rect x="677.6" y="370.1" width="6.4" height="39.5" fill="#000"/>
<rect x="677.6" y="445.7" width="6.4" height="39.5" fill="#000"/>
<rect x="677.6" y="521.3" width="6.4" height="39.5" fill="#000"/>
<rect x="677.6" y="596.9" width="6.4" height="39.5" fill="#000"/>
<rect x="677.6" y="672.5" width="6.4" height="39.5" fill="#000"/>
<rect x="677.6" y="748.1" width="6.4" height="39.5" fill="#000"/>
<rect x="677.6" y="823.7" width="6.4" height="39.5" fill="#000"/>
<rect x="677.6" y="899.3" width="6.4" height="39.5" fill="#000"/>
<rect x="677.6" y="974.9" width="6.4" height="39.5" fill="#000"/>
<rect x="677.6" y="1050.5" width="6.4" height="22.0" fill="#000"/>
<rect x="962.8" y="261.0" width="8.1" height="39.5" fill="#000"/>
<rect x="962.8" y="336.4" width="8.1" height="39.5" fill="#000"/>
<rect x="962.8" y="411.9" width="8.1" height="39.5" fill="#000"/>
<rect x="962.8" y="487.4" width="8.1" height="39.5" fill="#000"/>
<rect x="962.8" y="562.8" width="8.1" height="39.5" fill="#000"/>
<rect x="962.8" y="638.2" width="8.1" height="39.6" fill="#000"/>
<rect x="962.8" y="713.7" width="8.1" height="39.5" fill="#000"/>
<rect x="962.8" y="789.1" width="8.1" height="39.5" fill="#000"/>
<rect x="962.8" y="864.6" width="8.1" height="39.5" fill="#000"/>
<rect x="962.8" y="940.1" width="8.1" height="39.5" fill="#000"/>
<rect x="962.8" y="1015.5" width="8.1" height="38.5" fill="#000"/>
<rect x="1006.3" y="249.5" width="7.8" height="39.5" fill="#000"/>
<rect x="1006.3" y="324.9" width="7.8" height="39.5" fill="#000"/>
<rect x="1006.3" y="400.4" width="7.8" height="39.5" fill="#000"/>
<rect x="1006.3" y="475.9" width="7.8" height="39.5" fill="#000"/>
<rect x="1006.3" y="551.3" width="7.8" height="39.5" fill="#000"/>
<rect x="1006.3" y="626.8" width="7.8" height="39.4" fill="#000"/>
<rect x="1006.3" y="702.2" width="7.8" height="39.5" fill="#000"/>
<rect x="1006.3" y="777.6" width="7.8" height="39.5" fill="#000"/>
<rect x="1006.3" y="853.1" width="7.8" height="39.5" fill="#000"/>
<rect x="1006.3" y="928.6" width="7.8" height="39.5" fill="#000"/>
<rect x="1006.3" y="1004.0" width="7.8" height="8.5" fill="#000"/>
<rect x="1047.2" y="280.0" width="5.2" height="39.5" fill="#000"/>
<rect x="1047.2" y="355.4" width="5.2" height="39.5" fill="#000"/>
<rect x="1047.2" y="430.9" width="5.2" height="39.5" fill="#000"/>
<rect x="1047.2" y="506.4" width="5.2" height="39.5" fill="#000"/>
<rect x="1047.2" y="581.8" width="5.2" height="39.5" fill="#000"/>
<rect x="1047.2" y="657.2" width="5.2" height="39.6" fill="#000"/>
<rect x="1047.2" y="732.7" width="5.2" height="39.5" fill="#000"/>
<rect x="1047.2" y="808.1" width="5.2" height="39.5" fill="#000"/>
<rect x="1047.2" y="883.6" width="5.2" height="39.5" fill="#000"/>
<rect x="1047.2" y="959.1" width="5.2" height="36.9" fill="#000"/>
<text class="s" transform="translate(319,250) scale(0.975,1.03)" font-size="64" text-anchor="start">314</text>
<text class="s" transform="translate(428,260.5) scale(0.985,1.02)" font-size="64" text-anchor="start">350</text>
<text class="s" transform="translate(569,239) scale(0.985,1.03)" font-size="64" text-anchor="start">435</text>
<text class="s" transform="translate(662.5,260.5) scale(0.985,1.03)" font-size="64" text-anchor="start">450</text>
<text class="s" transform="translate(883,248) scale(0.985,1.03)" font-size="64" text-anchor="start">971</text>
<text class="s" transform="translate(976.5,211.5) scale(0.985,1.03)" font-size="64" text-anchor="start">990</text>
<text class="s" transform="translate(1049,269) scale(0.965,1.03)" font-size="64" text-anchor="start">1009</text>
<text class="s" transform="translate(1250,402.8) scale(1,1.03)" font-size="61" text-anchor="start" stroke="#fff" stroke-width="1.0">x = 0.4</text>
<text class="s" transform="translate(1246.5,625.3) scale(1,1.03)" font-size="61" text-anchor="start" stroke="#fff" stroke-width="1.0">x = 0.35</text>
<text class="s" transform="translate(1246.5,734) scale(1,1.03)" font-size="61" text-anchor="start" stroke="#fff" stroke-width="1.0">x = 0.3</text>
<text class="s" transform="translate(1251.5,854) scale(1,1.03)" font-size="61" text-anchor="start" stroke="#fff" stroke-width="1.0">x = 0.2</text>
<text class="s" transform="translate(1251.5,971.3) scale(1,1.03)" font-size="61" text-anchor="start" stroke="#fff" stroke-width="1.0">x = 0.1</text>
<text class="s" transform="translate(1253.5,1077.8) scale(1.03,1.0)" font-size="58" text-anchor="start" stroke="#fff" stroke-width="1.0">x = 0</text>
<text class="a" transform="translate(131.2,1223) scale(1.015,1.06)" font-size="67" text-anchor="middle" stroke="#fff" stroke-width="0.6">200</text>
<text class="a" transform="translate(567.3,1223) scale(1.015,1.06)" font-size="67" text-anchor="middle" stroke="#fff" stroke-width="0.6">400</text>
<text class="a" transform="translate(1029,1223) scale(0.985,1.06)" font-size="67" text-anchor="middle" stroke="#fff" stroke-width="0.6">1000</text>
<text class="a" transform="translate(1464.3,1223) scale(0.975,1.06)" font-size="67" text-anchor="middle" stroke="#fff" stroke-width="0.6">1200</text>
<text class="s" font-size="66" x="522.5" y="1301.5" stroke="#fff" stroke-width="0.8">Raman Shift (cm<tspan font-size="54" x="1003.5" y="1278.8">−</tspan><tspan font-size="44" x="1032.5" y="1275">1</tspan><tspan x="1054.5" y="1301.5">)</tspan></text>
<text class="s" transform="translate(72.3,815.5) rotate(-90) scale(1.033,1.0)" font-size="66" text-anchor="start" stroke="#fff" stroke-width="0.8">Intensity (a.u.)</text>
</svg></body></html>
